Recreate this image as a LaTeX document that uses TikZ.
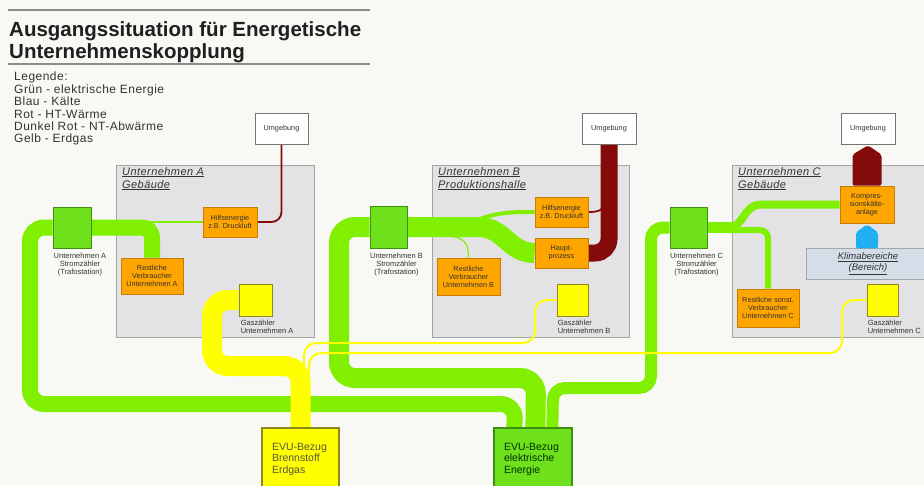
\documentclass[tikz,border=0pt]{standalone}
\usepackage{fontspec}
\setmainfont{Liberation Sans}
\newfontfamily\spaced[LetterSpace=4]{Liberation Sans}
\usetikzlibrary{calc}
\pgfdeclarelayer{bg}
\pgfdeclarelayer{lines}
\pgfsetlayers{bg,lines,main}
\definecolor{bgc}{HTML}{F8F8F4}
\definecolor{grn}{HTML}{80F000}
\definecolor{grnbox}{HTML}{6EE01C}
\definecolor{grnbd}{HTML}{3F8F10}
\definecolor{yel}{HTML}{FFFF00}
\definecolor{yelbd}{HTML}{8A8A20}
\definecolor{org}{HTML}{FFA500}
\definecolor{orgbd}{HTML}{C67C00}
\definecolor{dred}{HTML}{850A0A}
\definecolor{blu}{HTML}{1EB0F0}
\definecolor{gbox}{HTML}{E3E3E5}
\definecolor{gboxbd}{HTML}{A5A5A5}
\definecolor{klima}{HTML}{D3DEE8}
\definecolor{txt}{HTML}{333333}
\definecolor{rulec}{HTML}{8C8C8C}
\begin{document}
\begin{tikzpicture}[x=1pt,y=-1pt,
  company/.style={draw=gboxbd, fill=gbox, line width=0.8, inner sep=0},
  comptitle/.style={anchor=north west, inner sep=0, align=left, text=txt, font=\spaced\fontsize{11}{13}\selectfont\itshape},
  box/.style={inner sep=0, line width=0.8, align=center, text=txt, font=\fontsize{7.3}{8}\selectfont},
  orangebox/.style={box, draw=orgbd, fill=org},
  station/.style={box, draw=grnbd, fill=grnbox},
  gasbox/.style={box, draw=yelbd, fill=yel},
  envbox/.style={box, draw=black!55, fill=white, font=\fontsize{7.3}{8}\selectfont},
  smalllabel/.style={inner sep=0, align=center, text=txt, font=\fontsize{7.5}{8.2}\selectfont},
  evu/.style={inner ysep=0, inner xsep=10, line width=1.2, align=left, minimum height=62, font=\fontsize{10.5}{11.5}\selectfont},
  gband/.style={draw=grn, line cap=butt},
  yband/.style={draw=yel, line cap=butt},
  rband/.style={draw=dred, line cap=butt}
]
\useasboundingbox (0,0) rectangle (924,485);
\begin{pgfonlayer}{bg}
\fill[bgc] (0,0) rectangle (924,485);
\node[company, minimum width=198, minimum height=172] (cA) at (215,251) {};
\node[company, minimum width=197, minimum height=172] (cB) at (530.5,251) {};
\node[company, minimum width=198, minimum height=172] (cC) at (831,251) {};
\end{pgfonlayer}

% title and legend
\draw[rulec, line width=1.6] (8,10) -- (370,10);
\draw[rulec, line width=1.6] (8,64) -- (370,64);
\node[anchor=base west, inner sep=0, text=black!88, font=\fontsize{20.5}{23}\selectfont\bfseries] (t1) at (9,36) {Ausgangssituation für Energetische};
\node[anchor=base west, inner sep=0, text=black!88, font=\fontsize{20.5}{23}\selectfont\bfseries] (t2) at (9,58) {Unternehmenskopplung};
\node[anchor=north west, inner sep=0, align=left, text=txt, font=\spaced\fontsize{12}{12.4}\selectfont] (leg) at (14,72)
 {Legende:\\Grün - elektrische Energie\\Blau - Kälte\\Rot - HT-Wärme\\Dunkel Rot - NT-Abwärme\\Gelb - Erdgas};

% company titles
\node[comptitle] (tA) at (122,167) {\underline{Unternehmen A}\\\underline{Gebäude}};
\node[comptitle] (tB) at (438,167) {\underline{Unternehmen B}\\\underline{Produktionshalle}};
\node[comptitle] (tC) at (738,167) {\underline{Unternehmen C}\\\underline{Gebäude}};

% environment
\node[envbox, minimum width=53, minimum height=31] (uA) at (281.5,128.5) {Umgebung};
\node[envbox, minimum width=54, minimum height=31] (uB) at (609,128.5) {Umgebung};
\node[envbox, minimum width=54, minimum height=31] (uC) at (868,128.5) {Umgebung};

% stations
\node[station, minimum width=38, minimum height=41] (sA) at (72,227.5) {};
\node[station, minimum width=37, minimum height=42] (sB) at (388.5,227) {};
\node[station, minimum width=37, minimum height=41] (sC) at (688.5,227.5) {};
\node[smalllabel, anchor=north] (lA) at ($(sA.south)+(8,4)$) {Unternehmen A\\Stromzähler\\(Trafostation)};
\node[smalllabel, anchor=north] (lB) at ($(sB.south)+(8,4)$) {Unternehmen B\\Stromzähler\\(Trafostation)};
\node[smalllabel, anchor=north] (lC) at ($(sC.south)+(8,4)$) {Unternehmen C\\Stromzähler\\(Trafostation)};

% consumers
\node[orangebox, minimum width=54, minimum height=30] (hA) at (230,222) {Hilfsenergie\\z.B. Druckluft};
\node[orangebox, minimum width=62, minimum height=36] (rA) at (152,276) {Restliche\\Verbraucher\\Unternehmen A};
\node[orangebox, minimum width=53, minimum height=30] (hB) at (561.5,212) {Hilfsenergie\\z.B. Druckluft};
\node[orangebox, minimum width=53, minimum height=30] (pB) at (561.5,253) {Haupt-\\prozess};
\node[orangebox, minimum width=63, minimum height=37] (rB) at (468.5,276.5) {Restliche\\Verbraucher\\Unternehmen B};
\node[orangebox, minimum width=54, minimum height=37] (kC) at (867,204.5) {Kompres-\\sionskälte-\\anlage};
\node[orangebox, minimum width=62, minimum height=38] (rC) at (768,308) {Restliche sonst.\\Verbraucher\\Unternehmen C};
\node[draw=gboxbd, fill=klima, line width=0.8, inner sep=0, minimum width=124, minimum height=31, align=center, text=txt, font=\fontsize{9.5}{11}\selectfont\itshape] (kl) at (868,263.5) {\underline{Klimabereiche}\\\underline{(Bereich)}};

% gas meters
\node[gasbox, minimum width=33, minimum height=32] (gA) at (255.5,300) {};
\node[gasbox, minimum width=31, minimum height=32] (gB) at (572.5,300) {};
\node[gasbox, minimum width=31, minimum height=32] (gC) at (882.5,300) {};
\node[smalllabel, anchor=north west, align=left] (lgA) at ($(gA.south west)+(2,3)$) {Gaszähler\\Unternehmen A};
\node[smalllabel, anchor=north west, align=left] (lgB) at ($(gB.south west)+(1,3)$) {Gaszähler\\Unternehmen B};
\node[smalllabel, anchor=north west, align=left] (lgC) at ($(gC.south west)+(1,3)$) {Gaszähler\\Unternehmen C};

% supply boxes
\node[evu, draw=yelbd, fill=yel, text=yellow!25!black, text width=57] (eY) at (300.5,459) {EVU-Bezug\\Brennstoff\\Erdgas};
\node[evu, draw=grnbd, fill=grnbox, text=green!20!black, text width=58] (eG) at (533,459) {EVU-Bezug\\elektrische\\Energie};

% arrows of company C
\fill[dred, rounded corners=2] ($(kC.north)+(-14.5,0)$) -- ($(kC.north)+(-14.5,-31)$) -- ($(uC.south)+(0,1)$) -- ($(kC.north)+(14.5,-31)$) -- ($(kC.north)+(14.5,0)$) -- cycle;
\fill[blu, rounded corners=2] ($(kC.south)+(-11,25)$) -- ($(kC.south)+(-11,9)$) -- ($(kC.south)+(0,1)$) -- ($(kC.south)+(11,9)$) -- ($(kC.south)+(11,25)$) -- cycle;

\begin{pgfonlayer}{lines}
% green: company A
\draw[gband, line width=16, rounded corners=14] (sA.west) -- (30,227.5) -- (30,404) -- (515,404) -- ($(eG.north west)+(21,0)$);
\draw[gband, line width=16, rounded corners=10] (sA.east) -| (rA.north);
\draw[gband, line width=2] (sA.east |- hA.west) -- (hA.west);
% green: company B
\draw[gband, line width=20, rounded corners=16] (sB.west) -- (339,227) -- (339,378) -- (536,378) -- ($(eG.north west)+(42,0)$);
\draw[gband, line width=20] (sB.east) -- (478,227) .. controls (505,227) and (508,253) .. (pB.west);
\draw[gband, line width=4] (470,223) .. controls (495,212) and (510,212) .. (hB.west);
\draw[gband, line width=1.2] (445,236) .. controls (466,236) and (468.5,245) .. (rB.north);
% green: company C
\draw[gband, line width=12, rounded corners=12] (sC.west) -- (651,227.5) -- (651,388) -- (553,388) -- ($(eG.north west)+(59,0)$);
\draw[gband, line width=11] (sC.east) -- (732,227.5);
\draw[gband, line width=8] (728,227.5) .. controls (745,227.5) and (742,204.5) .. (762,204.5) -- (kC.west);
\draw[gband, line width=6, rounded corners=8] (728,230) -| (rC.north);
% dark red
\draw[rband, line width=1.8, rounded corners=10] (hA.east) -| (uA.south);
\draw[rband, line width=17, rounded corners=14] (pB.east) -| (uB.south);
\draw[rband, line width=1.8] (hB.east) .. controls (600,212) and (604,210) .. (605,200);
% yellow
\draw[yband, line width=2, rounded corners=12] (gB.west) -- (535,300) -- (535,343) -- (304,343) -- ($(eY.north)+(3.5,0)$);
\draw[yband, line width=2, rounded corners=12] (gC.west) -- (842,300) -- (842,353) -- (309,353) -- ($(eY.north)+(8.5,0)$);
\draw[yband, line width=20, rounded corners=16] (gA.west) -- (212,300) -- (212,366) -- (300.5,366) -- (eY.north);
\end{pgfonlayer}
\end{tikzpicture}
\end{document}
